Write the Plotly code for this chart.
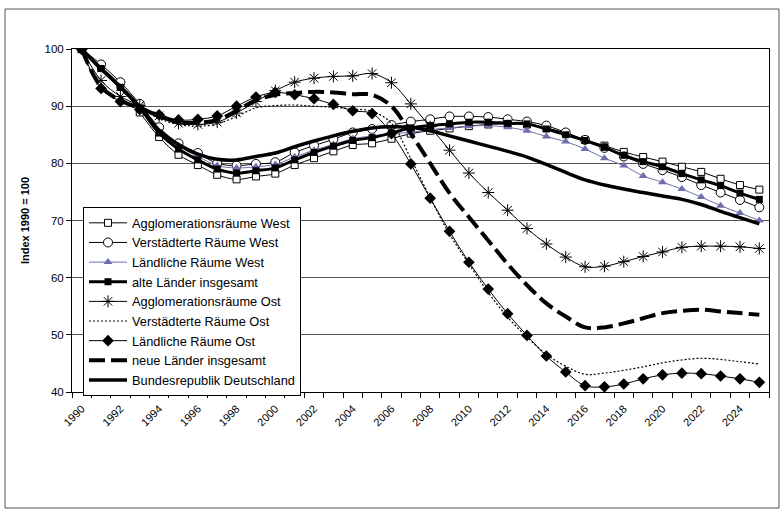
import plotly.graph_objects as go

years = list(range(1990, 2026))
tick_years = list(range(1990, 2025, 2))

agglo_west = [100, 96.9, 93.7, 88.9, 84.6, 81.5, 79.7, 78.0, 77.2, 77.7, 78.2, 79.7, 80.9, 82.1, 83.2, 83.5, 84.3, 85.2,
              85.7, 86.1, 86.5, 86.8, 86.9, 86.8, 86.2, 85.3, 84.1, 83.1, 82.0, 81.1, 80.3, 79.4, 78.5, 77.3, 76.2, 75.4]
verst_west = [100, 97.3, 94.2, 90.4, 86.3, 83.5, 81.8, 80.0, 79.6, 79.9, 80.2, 81.9, 83.1, 84.2, 85.4, 86.0, 86.7, 87.3,
              87.7, 88.2, 88.2, 88.1, 87.7, 87.3, 86.6, 85.4, 84.1, 82.7, 81.2, 79.9, 78.8, 77.6, 76.2, 74.9, 73.6, 72.3]
laendl_west = [100, 96.3, 93.0, 89.6, 85.4, 83.0, 81.2, 79.6, 79.2, 79.4, 79.8, 81.1, 82.3, 83.3, 84.3, 84.8, 85.2, 85.4,
               85.9, 86.2, 86.5, 86.6, 86.3, 85.7, 84.7, 83.8, 82.5, 80.9, 79.6, 77.8, 76.7, 75.5, 74.1, 72.6, 71.3, 70.0]
alte_laender = [100, 96.6, 93.3, 89.7, 85.3, 82.5, 80.6, 79.0, 78.3, 78.7, 79.2, 80.6, 81.9, 83.0, 84.0, 84.5, 85.3, 86.2,
                86.6, 86.9, 87.2, 87.2, 87.0, 86.9, 86.0, 85.0, 84.0, 82.8, 81.4, 80.3, 79.4, 78.2, 77.1, 76.1, 74.8, 73.7]
agglo_ost = [100, 94.5, 91.7, 90.1, 88.3, 87.0, 86.8, 87.2, 88.8, 90.8, 92.7, 94.2, 94.9, 95.2, 95.3, 95.7, 94.1, 90.4,
             86.4, 82.3, 78.3, 74.9, 71.8, 68.6, 65.9, 63.6, 61.9, 62.0, 62.8, 63.7, 64.5, 65.3, 65.5, 65.5, 65.4, 65.1]
verst_ost = [100, 93.0, 91.0, 89.8, 87.8, 86.8, 86.5, 86.9, 88.2, 89.7, 90.1, 90.2, 90.0, 89.8, 89.5, 89.1, 87.0, 80.8,
             74.0, 67.6, 62.4, 57.4, 53.1, 49.6, 46.6, 44.5, 43.1, 43.3, 43.8, 44.4, 45.1, 45.6, 45.9, 45.7, 45.3, 44.9]
laendl_ost = [100, 93.1, 90.8, 89.4, 88.5, 87.6, 87.7, 88.3, 90.0, 91.6, 92.4, 92.0, 91.3, 90.3, 89.2, 88.7, 85.2, 79.9,
              73.9, 68.1, 62.7, 58.0, 53.7, 49.9, 46.3, 43.5, 41.1, 40.9, 41.4, 42.3, 43.0, 43.3, 43.2, 42.8, 42.3, 41.7]
neue_laender = [100, 93.4, 91.0, 89.7, 88.3, 87.2, 87.1, 87.6, 89.2, 91.0, 92.0, 92.3, 92.5, 92.4, 92.1, 92.0, 90.0, 85.2,
                80.0, 74.8, 70.6, 66.5, 62.4, 58.7, 55.5, 53.2, 51.3, 51.3, 52.0, 52.9, 53.8, 54.2, 54.4, 54.1, 53.8, 53.5]
brd = [100, 96.5, 93.4, 89.9, 85.8, 83.3, 81.6, 80.7, 80.6, 81.2, 81.8, 82.9, 83.9, 84.8, 85.6, 86.2, 86.4, 86.3,
       85.7, 84.8, 83.9, 83.0, 82.1, 81.1, 79.8, 78.4, 77.1, 76.2, 75.5, 74.9, 74.3, 73.7, 72.8, 71.6, 70.5, 69.4]

BLUE = "#6F6FAF"
FONT = "Liberation Sans, Arial, sans-serif"

fig = go.Figure()

def add(name, y, line, marker=None, mode="lines+markers"):
    fig.add_trace(go.Scatter(x=years, y=y, name=name, mode=mode,
                             line=dict(shape="spline", **line),
                             marker=marker or {}))

add("Agglomerationsräume West", agglo_west, dict(color="black", width=1),
    dict(symbol="square", size=7, color="white", line=dict(color="black", width=1)))
add("Verstädterte Räume West", verst_west, dict(color="black", width=1),
    dict(symbol="circle", size=9, color="white", line=dict(color="black", width=1)))
add("Ländliche Räume West", laendl_west, dict(color=BLUE, width=1),
    dict(symbol="triangle-up", size=8, color=BLUE, line=dict(width=0)))
add("alte Länder insgesamt", alte_laender, dict(color="black", width=3),
    dict(symbol="square", size=7, color="black", line=dict(width=0)))
add("Agglomerationsräume Ost", agglo_ost, dict(color="black", width=1),
    dict(symbol="asterisk-open", size=10, color="black", line=dict(color="black", width=1)))
add("Verstädterte Räume Ost", verst_ost, dict(color="black", width=1.2, dash="2px,2px"), mode="lines")
add("Ländliche Räume Ost", laendl_ost, dict(color="black", width=1),
    dict(symbol="diamond", size=9, color="black", line=dict(width=0)))
add("neue Länder insgesamt", neue_laender, dict(color="black", width=4, dash="16px,6px"), mode="lines")
add("Bundesrepublik Deutschland", brd, dict(color="black", width=3.5), mode="lines")

L, R, T, B = 72, 15, 49, 123
W, H = 784, 515
pw, ph = W - L - R, H - T - B

def px(x):
    return (x - L) / pw

def py(y):
    return (H - B - y) / ph

fig.update_layout(
    width=W, height=H,
    margin=dict(l=L, r=R, t=T, b=B, pad=0, autoexpand=False),
    paper_bgcolor="white", plot_bgcolor="white",
    font=dict(family=FONT, size=11, color="black"),
    showlegend=True,
    legend=dict(x=px(83), y=py(207), xanchor="left", yanchor="top",
                bgcolor="white", bordercolor="black", borderwidth=1,
                font=dict(family=FONT, size=12.8, color="black"),
                itemwidth=38, tracegroupgap=0, traceorder="normal"),
    xaxis=dict(range=[1989.5, 2025.5], tickmode="array", tickvals=tick_years,
               ticktext=[str(y) for y in tick_years], tickangle=-45, ticks="",
               automargin=False, ticklabelstandoff=5,
               showgrid=False, zeroline=False, showline=True, linecolor="black", linewidth=1,
               mirror=True, tickfont=dict(size=11),
               minor=dict(tick0=1989.5, dtick=1, ticks="outside", ticklen=5,
                          tickcolor="black", tickwidth=1, showgrid=False)),
    yaxis=dict(range=[40, 100], tickmode="array", tickvals=[40, 50, 60, 70, 80, 90, 100],
               ticks="outside", ticklen=5, tickcolor="black", automargin=False,
               showgrid=True, gridcolor="#555555", gridwidth=1, zeroline=False,
               showline=True, linecolor="black", linewidth=1, mirror=True,
               tickfont=dict(size=11.5),
               title=dict(text="<b>Index 1990 = 100</b>", font=dict(size=11), standoff=12)),
    shapes=[dict(type="rect", xref="paper", yref="paper",
                 x0=px(5), x1=px(779), y0=py(508), y1=py(9),
                 line=dict(color="#555555", width=1), fillcolor="rgba(0,0,0,0)", layer="below")],
)

fig.write_html("out.html", config={"displayModeBar": False},
               post_script="document.body.style.margin='0';document.body.style.overflow='hidden';")
